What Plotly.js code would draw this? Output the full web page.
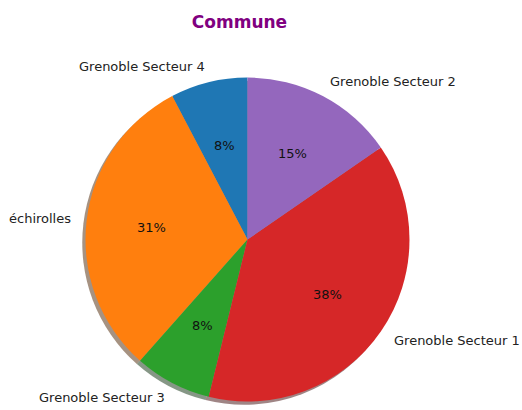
<!DOCTYPE html>
<html>
<head>
<meta charset="utf-8">
<script src="https://cdn.plot.ly/plotly-3.0.1.min.js"></script>
<style>html,body{margin:0;padding:0;background:#fff;}#chart{width:522px;height:410px;}</style>
</head>
<body>
<div id="chart"></div>
<script>
// Data
const labels = ["Grenoble Secteur 4", "échirolles", "Grenoble Secteur 3", "Grenoble Secteur 1", "Grenoble Secteur 2"];
const values = [1, 4, 1, 5, 2];
const colors = ["#1f77b4", "#ff7f0e", "#2ca02c", "#d62728", "#9467bd"];
const titleText = "Commune";

// Geometry (layout)
const W = 522, H = 410;
const cx = 247.5, cy = 239.5, R = 162;
const shadowOff = 0.02 * R;
const fontFam = "DejaVu Sans, sans-serif";

function shade(hex) {
  const n = parseInt(hex.slice(1), 16);
  const r = Math.round(((n >> 16) & 255) * 0.3), g = Math.round(((n >> 8) & 255) * 0.3), b = Math.round((n & 255) * 0.3);
  return `rgba(${r},${g},${b},0.5)`;
}

function domainFor(x0, y0) {
  return {
    x: [(x0 - R) / W, (x0 + R) / W],
    y: [1 - (y0 + R) / H, 1 - (y0 - R) / H]
  };
}

const total = values.reduce((a, b) => a + b, 0);
// In counterclockwise mode Plotly ends the first slice at the rotation angle;
// rotate so the first slice starts at 12 o'clock (like matplotlib startangle=90).
const rot = -360 * values[0] / total;

const shadowTrace = {
  type: "pie", labels: labels, values: values, sort: false,
  direction: "counterclockwise", rotation: rot,
  marker: { colors: colors.map(shade), line: { width: 0 } },
  textinfo: "none", hoverinfo: "skip", showlegend: false,
  domain: domainFor(cx - shadowOff, cy + shadowOff)
};
const pieTrace = {
  type: "pie", labels: labels, values: values, sort: false,
  direction: "counterclockwise", rotation: rot,
  marker: { colors: colors, line: { width: 0 } },
  textinfo: "none", showlegend: false,
  domain: domainFor(cx, cy)
};

// Text labels at matplotlib-like distances (labels 1.1R, percents 0.6R)
const annotations = [];
let start = 90;
values.forEach((v, i) => {
  const span = v / total * 360;
  const mid = (start + span / 2) * Math.PI / 180;
  start += span;
  const ux = Math.cos(mid), uy = Math.sin(mid);
  const lx = cx + 1.1 * R * ux, ly = cy - 1.1 * R * uy;
  annotations.push({
    xref: "paper", yref: "paper", x: lx / W, y: 1 - ly / H,
    text: labels[i], showarrow: false, borderpad: 0, borderwidth: 0,
    xanchor: ux > 0 ? "left" : "right", yanchor: "middle",
    font: { family: fontFam, size: 13, color: "#222" }
  });
  const px = cx + 0.6 * R * ux, py = cy - 0.6 * R * uy;
  annotations.push({
    xref: "paper", yref: "paper", x: px / W, y: 1 - py / H,
    text: Math.round(v / total * 100) + "%", showarrow: false, borderpad: 0, borderwidth: 0,
    xanchor: "center", yanchor: "middle",
    font: { family: fontFam, size: 13, color: "#111" }
  });
});

const layout = {
  width: W, height: H,
  margin: { l: 0, r: 0, t: 0, b: 0 },
  paper_bgcolor: "#fff", plot_bgcolor: "#fff",
  showlegend: false,
  title: {
    text: "<b>" + titleText + "</b>",
    font: { family: fontFam, size: 17, color: "#800080" },
    x: 239.5 / W, xanchor: "center", xref: "paper",
    y: 1 - 22 / H, yanchor: "middle", yref: "container"
  },
  annotations: annotations
};

Plotly.newPlot("chart", [shadowTrace, pieTrace], layout, { staticPlot: true, displayModeBar: false });
</script>
</body>
</html>
